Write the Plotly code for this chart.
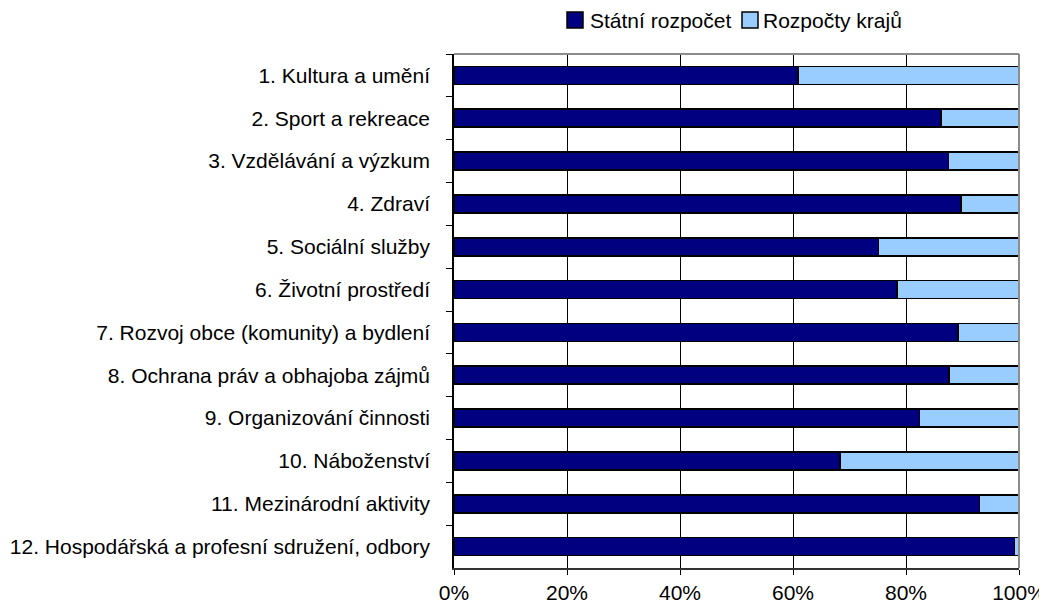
import plotly.graph_objects as go

categories = [
    "1. Kultura a umění",
    "2. Sport a rekreace",
    "3. Vzdělávání a výzkum",
    "4. Zdraví",
    "5. Sociální služby",
    "6. Životní prostředí",
    "7. Rozvoj obce (komunity) a bydlení",
    "8. Ochrana práv a obhajoba zájmů",
    "9. Organizování činnosti",
    "10. Náboženství",
    "11. Mezinárodní aktivity",
    "12. Hospodářská a profesní sdružení, odbory",
]
statni = [60.9, 86.2, 87.5, 89.7, 75.1, 78.4, 89.2, 87.6, 82.4, 68.3, 93.0, 99.2]
kraje = [round(100 - v, 1) for v in statni]
series_names = ["Státní rozpočet", "Rozpočty krajů"]
colors = ["#000080", "#99CCFF"]

# page body has an 8px margin; compensate so plot area sits at x 454-1019, y 54-568
W, H = 1039, 600
L, T, R, B = 446, 46, 28, 40
PX0, PY0 = 8 + L, 8 + T
PW, PH = 8 + W - R - PX0, 8 + H - B - PY0


def px_x(px):
    return (px - PX0) / PW


def px_y(py):
    return (PY0 + PH - py) / PH


fig = go.Figure()
for name, vals, col in zip(series_names, [statni, kraje], colors):
    fig.add_bar(y=categories, x=vals, orientation="h", name=name,
                marker=dict(color=col, line=dict(color="black", width=1.6)))

shapes = [
    # top and right grey border of plot area
    dict(type="line", xref="paper", yref="paper", x0=0, x1=1, y0=1, y1=1,
         line=dict(color="#8c8c8c", width=2)),
    dict(type="line", xref="paper", yref="paper", x0=1, x1=1, y0=0, y1=1,
         line=dict(color="#8c8c8c", width=2)),
]
annotations = []
# custom legend
leg_items = [(567, 588), (742, 761)]
for (sx, tx), name, col in zip(leg_items, series_names, colors):
    shapes.append(dict(type="rect", xref="paper", yref="paper",
                       x0=px_x(sx), x1=px_x(sx + 16), y0=px_y(28), y1=px_y(12),
                       fillcolor=col, line=dict(color="black", width=1.5)))
    annotations.append(dict(xref="paper", yref="paper", x=px_x(tx), y=px_y(20),
                            xanchor="left", yanchor="middle", text=name, showarrow=False,
                            font=dict(size=21)))

fig.update_layout(
    template="none",
    barmode="stack",
    bargap=0.58,
    width=W, height=H,
    margin=dict(l=L, r=R, t=T, b=B, pad=0),
    paper_bgcolor="white", plot_bgcolor="white",
    font=dict(family="Liberation Sans, Arial, sans-serif", size=21, color="black"),
    showlegend=False,
    shapes=shapes,
    annotations=annotations,
)
fig.update_xaxes(range=[0, 100], tickvals=[0, 20, 40, 60, 80, 100],
                 ticktext=["0%", "20%", "40%", "60%", "80%", "100%"],
                 showgrid=True, gridcolor="black", gridwidth=1,
                 showline=True, linecolor="#333333", linewidth=1.5,
                 ticks="outside", ticklen=5, tickcolor="black", tickwidth=1,
                 zeroline=False, automargin=False)
fig.update_yaxes(autorange="reversed", showline=True, linecolor="black", linewidth=1.5,
                 ticks="outside", ticklen=6, tickcolor="black", tickwidth=1,
                 tickson="boundaries", showgrid=False, ticklabelstandoff=18,
                 automargin=False)
fig.write_html("out.html")
